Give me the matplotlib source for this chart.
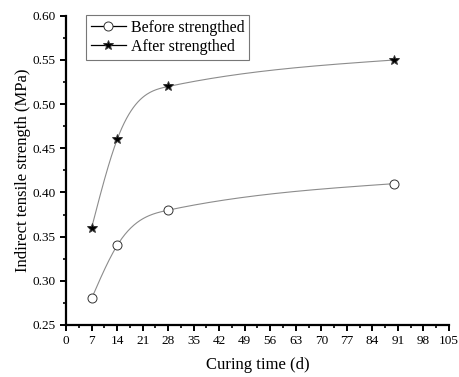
import numpy as np
import matplotlib
matplotlib.use("Agg")
import matplotlib.pyplot as plt
from matplotlib.lines import Line2D
from matplotlib.ticker import MultipleLocator, AutoMinorLocator

plt.rcParams['font.family'] = ['Liberation Serif', 'DejaVu Serif']

# data
days = [7, 14, 28, 90]
before = [0.28, 0.34, 0.38, 0.41]
after = [0.36, 0.46, 0.52, 0.55]


def natural_spline(x, y, xs):
    # natural cubic spline through the points
    x = np.asarray(x, float)
    y = np.asarray(y, float)
    n = len(x)
    h = np.diff(x)
    A = np.zeros((n, n))
    b = np.zeros(n)
    A[0, 0] = A[-1, -1] = 1
    for i in range(1, n - 1):
        A[i, i - 1] = h[i - 1]
        A[i, i] = 2 * (h[i - 1] + h[i])
        A[i, i + 1] = h[i]
        b[i] = 6 * ((y[i + 1] - y[i]) / h[i] - (y[i] - y[i - 1]) / h[i - 1])
    M = np.linalg.solve(A, b)
    idx = np.clip(np.searchsorted(x, xs) - 1, 0, n - 2)
    hi = h[idx]
    a = x[idx + 1] - xs
    c = xs - x[idx]
    return (M[idx] * a**3 / (6 * hi) + M[idx + 1] * c**3 / (6 * hi)
            + (y[idx] / hi - M[idx] * hi / 6) * a
            + (y[idx + 1] / hi - M[idx + 1] * hi / 6) * c)


fig = plt.figure(figsize=(4.59, 3.77), dpi=100)
ax = fig.add_axes([0.144, 0.138, 0.834, 0.82])

xs = np.linspace(days[0], days[-1], 400)
for vals, mk, fc, ms in [(before, 'o', 'white', 6.5), (after, '*', 'black', 7.5)]:
    ax.plot(xs, natural_spline(days, vals, xs), color='#8c8c8c', lw=0.8, zorder=2)
    ax.plot(days, vals, ls='none', marker=mk, ms=ms, mfc=fc, mec='#333333',
            mew=0.7, zorder=3)

ax.set_xlim(0, 105)
ax.set_ylim(0.25, 0.60)
ax.xaxis.set_major_locator(MultipleLocator(7))
ax.xaxis.set_minor_locator(AutoMinorLocator(2))
ax.yaxis.set_major_locator(MultipleLocator(0.05))
ax.yaxis.set_minor_locator(AutoMinorLocator(2))
ax.yaxis.set_major_formatter(plt.FormatStrFormatter('%.2f'))

for s in ['top', 'right']:
    ax.spines[s].set_visible(False)
for s in ['left', 'bottom']:
    ax.spines[s].set_linewidth(1.6)
ax.tick_params(which='major', length=4, width=1.4, labelsize=9.5, direction='out', pad=3.5)
ax.tick_params(which='minor', length=2.3, width=1.2, direction='out')

ax.set_xlabel('Curing time (d)', fontsize=12, labelpad=7)
ax.set_ylabel('Indirect tensile strength (MPa)', fontsize=12, labelpad=1)

handles = [
    Line2D([], [], color='black', lw=0.9, marker='o', ms=6.5, mfc='white', mec='#333333', mew=0.7),
    Line2D([], [], color='black', lw=0.9, marker='*', ms=7.5, mfc='black', mec='#333333', mew=0.7),
]
leg = ax.legend(handles, ['Before strengthed', 'After strengthed'],
                loc='upper left', bbox_to_anchor=(0.052, 1.003), fontsize=11.5,
                frameon=True, fancybox=False, edgecolor='#555555',
                handlelength=2.2, handletextpad=0.3, borderpad=0.3,
                labelspacing=0.2, borderaxespad=0)
leg.get_frame().set_linewidth(0.8)

fig.savefig('out.png', dpi=100)
